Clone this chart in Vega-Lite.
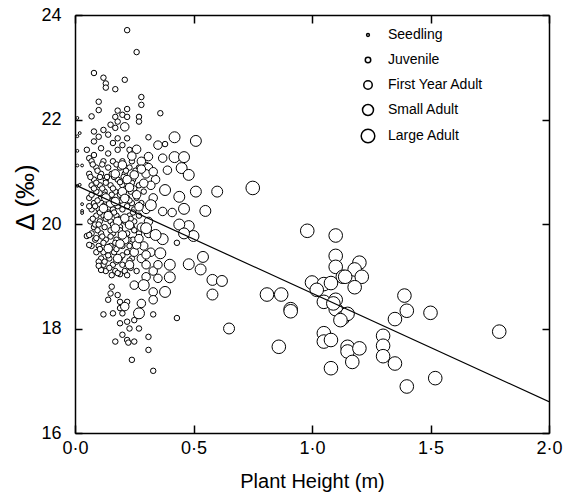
{
  "$schema": "https://vega.github.io/schema/vega-lite/v6.json",
  "width": 474,
  "height": 418,
  "autosize": {"type": "none"},
  "padding": {"left": 75, "top": 15, "right": 16, "bottom": 69},
  "background": "white",
  "config": {
    "view": {"stroke": null},
    "font": "Liberation Sans",
    "axis": {"domainColor": "black", "domainWidth": 1.5, "tickColor": "black", "tickWidth": 1.5, "labelColor": "black", "titleColor": "black", "grid": false, "labelFont": "Liberation Sans", "titleFont": "Liberation Sans", "titleFontWeight": "normal", "labelFlush": false}
  },
  "resolve": {"axis": {"x": "independent", "y": "independent"}},
  "layer": [
    {
      "data": {"values": [
        {"h":0.22,"d":23.71,"s":"Juvenile"},{"h":0.26,"d":23.29,"s":"Juvenile"},{"h":0.08,"d":22.89,"s":"Juvenile"},{"h":0.12,"d":22.80,"s":"Juvenile"},{"h":0.13,"d":22.69,"s":"Juvenile"},{"h":0.13,"d":22.61,"s":"Juvenile"},{"h":0.17,"d":22.58,"s":"Juvenile"},{"h":0.21,"d":22.76,"s":"Juvenile"},{"h":0.28,"d":22.43,"s":"Juvenile"},{"h":0.28,"d":22.28,"s":"Juvenile"},{"h":0.10,"d":22.34,"s":"Juvenile"},{"h":0.10,"d":22.18,"s":"Juvenile"},{"h":0.07,"d":22.06,"s":"Juvenile"},{"h":0.36,"d":22.12,"s":"Juvenile"},{"h":0.18,"d":22.17,"s":"Juvenile"},{"h":0.22,"d":22.20,"s":"Juvenile"},{"h":0.20,"d":22.09,"s":"Juvenile"},{"h":0.17,"d":22.05,"s":"Juvenile"},{"h":0.22,"d":22.05,"s":"Juvenile"},{"h":0.27,"d":22.05,"s":"Juvenile"},{"h":0.27,"d":21.96,"s":"Juvenile"},{"h":0.15,"d":21.90,"s":"Juvenile"},{"h":0.18,"d":21.96,"s":"Juvenile"},{"h":0.17,"d":21.84,"s":"Juvenile"},{"h":0.08,"d":21.77,"s":"Juvenile"},{"h":0.12,"d":21.80,"s":"Juvenile"},{"h":0.10,"d":21.67,"s":"Juvenile"},{"h":0.08,"d":21.58,"s":"Juvenile"},{"h":0.14,"d":21.71,"s":"Juvenile"},{"h":0.18,"d":21.64,"s":"Juvenile"},{"h":0.22,"d":21.64,"s":"Juvenile"},{"h":0.16,"d":21.55,"s":"Juvenile"},{"h":0.20,"d":21.51,"s":"Juvenile"},{"h":0.31,"d":21.66,"s":"Juvenile"},{"h":0.05,"d":21.42,"s":"Juvenile"},{"h":0.08,"d":21.32,"s":"Juvenile"},{"h":0.06,"d":21.26,"s":"Juvenile"},{"h":0.11,"d":21.45,"s":"Juvenile"},{"h":0.14,"d":21.35,"s":"Juvenile"},{"h":0.18,"d":21.42,"s":"Juvenile"},{"h":0.23,"d":21.42,"s":"Juvenile"},{"h":0.38,"d":21.53,"s":"Juvenile"},
        {"h":0.07,"d":21.2,"s":"Juvenile"},{"h":0.12,"d":21.2,"s":"Juvenile"},{"h":0.16,"d":21.2,"s":"Juvenile"},{"h":0.20,"d":21.2,"s":"Juvenile"},{"h":0.24,"d":21.2,"s":"Juvenile"},
        {"h":0.09,"d":21.08,"s":"Juvenile"},{"h":0.14,"d":21.08,"s":"Juvenile"},{"h":0.19,"d":21.08,"s":"Juvenile"},{"h":0.23,"d":21.08,"s":"Juvenile"},{"h":0.27,"d":21.08,"s":"Juvenile"},
        {"h":0.06,"d":20.96,"s":"Juvenile"},{"h":0.11,"d":20.96,"s":"Juvenile"},{"h":0.155,"d":20.96,"s":"Juvenile"},{"h":0.21,"d":20.96,"s":"Juvenile"},
        {"h":0.08,"d":20.85,"s":"Juvenile"},{"h":0.13,"d":20.85,"s":"Juvenile"},{"h":0.18,"d":20.85,"s":"Juvenile"},{"h":0.245,"d":20.85,"s":"Juvenile"},
        {"h":0.07,"d":20.74,"s":"Juvenile"},{"h":0.105,"d":20.74,"s":"Juvenile"},{"h":0.15,"d":20.74,"s":"Juvenile"},{"h":0.20,"d":20.74,"s":"Juvenile"},{"h":0.27,"d":20.74,"s":"Juvenile"},
        {"h":0.09,"d":20.62,"s":"Juvenile"},{"h":0.125,"d":20.62,"s":"Juvenile"},{"h":0.17,"d":20.62,"s":"Juvenile"},{"h":0.235,"d":20.62,"s":"Juvenile"},{"h":0.29,"d":20.62,"s":"Juvenile"},
        {"h":0.06,"d":20.50,"s":"Juvenile"},{"h":0.11,"d":20.50,"s":"Juvenile"},{"h":0.145,"d":20.50,"s":"Juvenile"},{"h":0.22,"d":20.50,"s":"Juvenile"},{"h":0.26,"d":20.50,"s":"Juvenile"},
        {"h":0.08,"d":20.40,"s":"Juvenile"},{"h":0.13,"d":20.40,"s":"Juvenile"},{"h":0.18,"d":20.40,"s":"Juvenile"},{"h":0.24,"d":20.40,"s":"Juvenile"},{"h":0.28,"d":20.40,"s":"Juvenile"},
        {"h":0.07,"d":20.28,"s":"Juvenile"},{"h":0.10,"d":20.28,"s":"Juvenile"},{"h":0.16,"d":20.28,"s":"Juvenile"},{"h":0.20,"d":20.28,"s":"Juvenile"},{"h":0.25,"d":20.28,"s":"Juvenile"},
        {"h":0.09,"d":20.16,"s":"Juvenile"},{"h":0.12,"d":20.16,"s":"Juvenile"},{"h":0.175,"d":20.16,"s":"Juvenile"},{"h":0.23,"d":20.16,"s":"Juvenile"},{"h":0.27,"d":20.16,"s":"Juvenile"},
        {"h":0.065,"d":20.05,"s":"Juvenile"},{"h":0.105,"d":20.05,"s":"Juvenile"},{"h":0.15,"d":20.05,"s":"Juvenile"},{"h":0.21,"d":20.05,"s":"Juvenile"},{"h":0.25,"d":20.05,"s":"Juvenile"},
        {"h":0.08,"d":19.94,"s":"Juvenile"},{"h":0.125,"d":19.94,"s":"Juvenile"},{"h":0.19,"d":19.94,"s":"Juvenile"},{"h":0.24,"d":19.94,"s":"Juvenile"},
        {"h":0.07,"d":19.82,"s":"Juvenile"},{"h":0.11,"d":19.82,"s":"Juvenile"},{"h":0.16,"d":19.82,"s":"Juvenile"},{"h":0.22,"d":19.82,"s":"Juvenile"},{"h":0.27,"d":19.82,"s":"Juvenile"},
        {"h":0.085,"d":19.70,"s":"Juvenile"},{"h":0.13,"d":19.70,"s":"Juvenile"},{"h":0.175,"d":19.70,"s":"Juvenile"},{"h":0.245,"d":19.70,"s":"Juvenile"},
        {"h":0.10,"d":19.58,"s":"Juvenile"},{"h":0.15,"d":19.58,"s":"Juvenile"},{"h":0.20,"d":19.58,"s":"Juvenile"},{"h":0.26,"d":19.58,"s":"Juvenile"},
        {"h":0.09,"d":19.46,"s":"Juvenile"},{"h":0.12,"d":19.46,"s":"Juvenile"},{"h":0.165,"d":19.46,"s":"Juvenile"},{"h":0.22,"d":19.46,"s":"Juvenile"},
        {"h":0.11,"d":19.34,"s":"Juvenile"},{"h":0.145,"d":19.34,"s":"Juvenile"},{"h":0.19,"d":19.34,"s":"Juvenile"},{"h":0.24,"d":19.34,"s":"Juvenile"},
        {"h":0.12,"d":19.22,"s":"Juvenile"},{"h":0.16,"d":19.22,"s":"Juvenile"},{"h":0.20,"d":19.22,"s":"Juvenile"},
        {"h":0.13,"d":19.10,"s":"Juvenile"},{"h":0.17,"d":19.10,"s":"Juvenile"},{"h":0.21,"d":19.10,"s":"Juvenile"},{"h":0.26,"d":19.10,"s":"Juvenile"},
        {"h":0.095,"d":21.02,"s":"Juvenile"},{"h":0.135,"d":20.9,"s":"Juvenile"},{"h":0.19,"d":20.8,"s":"Juvenile"},{"h":0.115,"d":20.68,"s":"Juvenile"},{"h":0.155,"d":20.56,"s":"Juvenile"},{"h":0.195,"d":20.45,"s":"Juvenile"},{"h":0.085,"d":20.34,"s":"Juvenile"},{"h":0.14,"d":20.22,"s":"Juvenile"},{"h":0.19,"d":20.1,"s":"Juvenile"},{"h":0.085,"d":19.99,"s":"Juvenile"},{"h":0.15,"d":19.88,"s":"Juvenile"},{"h":0.2,"d":19.76,"s":"Juvenile"},{"h":0.12,"d":19.64,"s":"Juvenile"},{"h":0.175,"d":19.52,"s":"Juvenile"},{"h":0.14,"d":19.4,"s":"Juvenile"},{"h":0.175,"d":19.28,"s":"Juvenile"},{"h":0.145,"d":19.16,"s":"Juvenile"},{"h":0.19,"d":19.04,"s":"Juvenile"},
        {"h":0.075,"d":21.14,"s":"Juvenile"},{"h":0.115,"d":21.14,"s":"Juvenile"},{"h":0.175,"d":21.14,"s":"Juvenile"},{"h":0.215,"d":21.02,"s":"Juvenile"},{"h":0.255,"d":21.02,"s":"Juvenile"},{"h":0.065,"d":20.9,"s":"Juvenile"},{"h":0.105,"d":20.9,"s":"Juvenile"},{"h":0.165,"d":20.9,"s":"Juvenile"},{"h":0.205,"d":20.9,"s":"Juvenile"},{"h":0.09,"d":20.79,"s":"Juvenile"},{"h":0.13,"d":20.79,"s":"Juvenile"},{"h":0.24,"d":20.79,"s":"Juvenile"},{"h":0.08,"d":20.68,"s":"Juvenile"},{"h":0.16,"d":20.68,"s":"Juvenile"},{"h":0.215,"d":20.68,"s":"Juvenile"},{"h":0.25,"d":20.68,"s":"Juvenile"},{"h":0.07,"d":20.56,"s":"Juvenile"},{"h":0.125,"d":20.56,"s":"Juvenile"},{"h":0.19,"d":20.56,"s":"Juvenile"},{"h":0.095,"d":20.45,"s":"Juvenile"},{"h":0.16,"d":20.45,"s":"Juvenile"},{"h":0.23,"d":20.45,"s":"Juvenile"},{"h":0.06,"d":20.34,"s":"Juvenile"},{"h":0.12,"d":20.34,"s":"Juvenile"},{"h":0.18,"d":20.34,"s":"Juvenile"},{"h":0.22,"d":20.34,"s":"Juvenile"},{"h":0.105,"d":20.22,"s":"Juvenile"},{"h":0.165,"d":20.22,"s":"Juvenile"},{"h":0.245,"d":20.22,"s":"Juvenile"},{"h":0.075,"d":20.1,"s":"Juvenile"},{"h":0.13,"d":20.1,"s":"Juvenile"},{"h":0.235,"d":20.1,"s":"Juvenile"},{"h":0.1,"d":19.99,"s":"Juvenile"},{"h":0.16,"d":19.99,"s":"Juvenile"},{"h":0.225,"d":19.99,"s":"Juvenile"},{"h":0.095,"d":19.88,"s":"Juvenile"},{"h":0.19,"d":19.88,"s":"Juvenile"},{"h":0.25,"d":19.88,"s":"Juvenile"},{"h":0.115,"d":19.76,"s":"Juvenile"},{"h":0.15,"d":19.76,"s":"Juvenile"},{"h":0.225,"d":19.7,"s":"Juvenile"},{"h":0.17,"d":19.64,"s":"Juvenile"},{"h":0.23,"d":19.58,"s":"Juvenile"},{"h":0.105,"d":19.52,"s":"Juvenile"},{"h":0.2,"d":19.4,"s":"Juvenile"},{"h":0.125,"d":19.28,"s":"Juvenile"},{"h":0.23,"d":19.3,"s":"Juvenile"},{"h":0.11,"d":19.12,"s":"Juvenile"},{"h":0.235,"d":19.16,"s":"Juvenile"},
        {"h":0.05,"d":19.77,"s":"Juvenile"},{"h":0.07,"d":19.58,"s":"Juvenile"},{"h":0.06,"d":19.79,"s":"Juvenile"},{"h":0.10,"d":19.28,"s":"Juvenile"},{"h":0.10,"d":19.20,"s":"Juvenile"},{"h":0.06,"d":19.60,"s":"Juvenile"},{"h":0.09,"d":19.73,"s":"Juvenile"},
        {"h":0.155,"d":19.02,"s":"Juvenile"},{"h":0.18,"d":19.06,"s":"Juvenile"},{"h":0.22,"d":19.02,"s":"Juvenile"},{"h":0.155,"d":18.80,"s":"Juvenile"},{"h":0.15,"d":18.67,"s":"Juvenile"},{"h":0.18,"d":18.64,"s":"Juvenile"},{"h":0.14,"d":18.55,"s":"Juvenile"},{"h":0.19,"d":18.51,"s":"Juvenile"},{"h":0.22,"d":18.51,"s":"Juvenile"},{"h":0.19,"d":18.39,"s":"Juvenile"},{"h":0.16,"d":18.29,"s":"Juvenile"},{"h":0.20,"d":18.29,"s":"Juvenile"},{"h":0.12,"d":18.27,"s":"Juvenile"},{"h":0.33,"d":18.27,"s":"Juvenile"},{"h":0.25,"d":18.16,"s":"Juvenile"},{"h":0.19,"d":18.10,"s":"Juvenile"},{"h":0.22,"d":18.13,"s":"Juvenile"},{"h":0.23,"d":18.00,"s":"Juvenile"},{"h":0.27,"d":18.00,"s":"Juvenile"},{"h":0.20,"d":17.88,"s":"Juvenile"},{"h":0.22,"d":17.78,"s":"Juvenile"},{"h":0.225,"d":17.73,"s":"Juvenile"},{"h":0.25,"d":17.75,"s":"Juvenile"},{"h":0.17,"d":17.75,"s":"Juvenile"},{"h":0.31,"d":17.84,"s":"Juvenile"},{"h":0.31,"d":17.59,"s":"Juvenile"},{"h":0.24,"d":17.40,"s":"Juvenile"},{"h":0.33,"d":17.19,"s":"Juvenile"},{"h":0.43,"d":18.20,"s":"Juvenile"},{"h":0.43,"d":19.64,"s":"Juvenile"},
        {"h":0.21,"d":21.86,"s":"First Year Adult"},{"h":0.26,"d":21.43,"s":"First Year Adult"},{"h":0.35,"d":21.51,"s":"First Year Adult"},{"h":0.20,"d":21.13,"s":"First Year Adult"},{"h":0.31,"d":21.29,"s":"First Year Adult"},{"h":0.30,"d":21.10,"s":"First Year Adult"},{"h":0.37,"d":21.26,"s":"First Year Adult"},{"h":0.28,"d":21.20,"s":"First Year Adult"},{"h":0.31,"d":21.08,"s":"First Year Adult"},{"h":0.17,"d":20.96,"s":"First Year Adult"},{"h":0.30,"d":20.96,"s":"First Year Adult"},{"h":0.22,"d":20.85,"s":"First Year Adult"},{"h":0.34,"d":20.85,"s":"First Year Adult"},{"h":0.32,"d":20.74,"s":"First Year Adult"},{"h":0.20,"d":20.62,"s":"First Year Adult"},{"h":0.33,"d":20.50,"s":"First Year Adult"},{"h":0.15,"d":20.40,"s":"First Year Adult"},{"h":0.30,"d":20.28,"s":"First Year Adult"},{"h":0.14,"d":20.16,"s":"First Year Adult"},{"h":0.18,"d":20.05,"s":"First Year Adult"},{"h":0.31,"d":20.05,"s":"First Year Adult"},{"h":0.28,"d":19.94,"s":"First Year Adult"},{"h":0.31,"d":19.82,"s":"First Year Adult"},{"h":0.21,"d":19.70,"s":"First Year Adult"},{"h":0.29,"d":19.58,"s":"First Year Adult"},{"h":0.25,"d":19.46,"s":"First Year Adult"},{"h":0.32,"d":19.46,"s":"First Year Adult"},{"h":0.28,"d":19.34,"s":"First Year Adult"},{"h":0.23,"d":19.22,"s":"First Year Adult"},{"h":0.30,"d":19.22,"s":"First Year Adult"},{"h":0.33,"d":19.10,"s":"First Year Adult"},
        {"h":0.26,"d":20.56,"s":"First Year Adult"},{"h":0.29,"d":20.78,"s":"First Year Adult"},{"h":0.25,"d":20.94,"s":"First Year Adult"},{"h":0.37,"d":20.24,"s":"First Year Adult"},{"h":0.17,"d":19.92,"s":"First Year Adult"},{"h":0.21,"d":20.11,"s":"First Year Adult"},{"h":0.26,"d":19.60,"s":"First Year Adult"},{"h":0.30,"d":19.41,"s":"First Year Adult"},{"h":0.35,"d":19.22,"s":"First Year Adult"},{"h":0.18,"d":19.34,"s":"First Year Adult"},{"h":0.14,"d":19.53,"s":"First Year Adult"},{"h":0.20,"d":19.79,"s":"First Year Adult"},{"h":0.12,"d":20.30,"s":"First Year Adult"},{"h":0.17,"d":20.43,"s":"First Year Adult"},{"h":0.21,"d":20.49,"s":"First Year Adult"},{"h":0.33,"d":21.00,"s":"First Year Adult"},{"h":0.39,"d":21.03,"s":"First Year Adult"},
        {"h":0.24,"d":21.30,"s":"First Year Adult"},{"h":0.28,"d":21.05,"s":"First Year Adult"},{"h":0.23,"d":20.70,"s":"First Year Adult"},{"h":0.13,"d":20.50,"s":"First Year Adult"},{"h":0.27,"d":20.33,"s":"First Year Adult"},{"h":0.23,"d":19.98,"s":"First Year Adult"},{"h":0.19,"d":19.62,"s":"First Year Adult"},{"h":0.27,"d":19.72,"s":"First Year Adult"},
        {"h":0.25,"d":18.83,"s":"First Year Adult"},{"h":0.30,"d":18.99,"s":"First Year Adult"},{"h":0.35,"d":18.96,"s":"First Year Adult"},{"h":0.33,"d":18.70,"s":"First Year Adult"},{"h":0.33,"d":18.55,"s":"First Year Adult"},{"h":0.28,"d":18.48,"s":"First Year Adult"},{"h":0.21,"d":18.42,"s":"First Year Adult"},{"h":0.41,"d":20.22,"s":"First Year Adult"},
        {"h":0.42,"d":21.66,"s":"Small Adult"},{"h":0.51,"d":21.59,"s":"Small Adult"},{"h":0.42,"d":21.28,"s":"Small Adult"},{"h":0.46,"d":21.28,"s":"Small Adult"},{"h":0.45,"d":21.07,"s":"Small Adult"},{"h":0.48,"d":20.94,"s":"Small Adult"},{"h":0.44,"d":20.52,"s":"Small Adult"},{"h":0.46,"d":20.29,"s":"Small Adult"},{"h":0.55,"d":20.25,"s":"Small Adult"},{"h":0.48,"d":19.96,"s":"Small Adult"},{"h":0.50,"d":19.77,"s":"Small Adult"},{"h":0.37,"d":19.71,"s":"Small Adult"},{"h":0.54,"d":19.37,"s":"Small Adult"},{"h":0.48,"d":19.23,"s":"Small Adult"},{"h":0.53,"d":19.13,"s":"Small Adult"},{"h":0.40,"d":18.98,"s":"Small Adult"},{"h":0.58,"d":18.93,"s":"Small Adult"},{"h":0.62,"d":18.91,"s":"Small Adult"},{"h":0.58,"d":18.65,"s":"Small Adult"},{"h":0.65,"d":18.00,"s":"Small Adult"},{"h":0.60,"d":20.62,"s":"Small Adult"},{"h":0.51,"d":20.62,"s":"Small Adult"},{"h":0.44,"d":19.99,"s":"Small Adult"},{"h":0.46,"d":19.82,"s":"Small Adult"},{"h":0.32,"d":20.36,"s":"Small Adult"},{"h":0.38,"d":20.65,"s":"Small Adult"},{"h":0.34,"d":19.79,"s":"Small Adult"},{"h":0.36,"d":19.44,"s":"Small Adult"},{"h":0.40,"d":19.22,"s":"Small Adult"},{"h":0.29,"d":18.83,"s":"Small Adult"},{"h":0.27,"d":18.29,"s":"Small Adult"},{"h":0.38,"d":18.70,"s":"Small Adult"},{"h":0.30,"d":19.92,"s":"Small Adult"},
        {"h":0.75,"d":20.69,"s":"Large Adult"},{"h":0.98,"d":19.87,"s":"Large Adult"},{"h":1.10,"d":19.78,"s":"Large Adult"},{"h":1.10,"d":19.39,"s":"Large Adult"},{"h":1.10,"d":19.18,"s":"Large Adult"},{"h":1.00,"d":18.88,"s":"Large Adult"},{"h":1.05,"d":18.85,"s":"Large Adult"},{"h":1.02,"d":18.74,"s":"Large Adult"},{"h":1.05,"d":18.51,"s":"Large Adult"},{"h":1.10,"d":18.55,"s":"Large Adult"},{"h":1.10,"d":18.37,"s":"Large Adult"},{"h":1.13,"d":18.20,"s":"Large Adult"},{"h":1.05,"d":17.91,"s":"Large Adult"},{"h":1.05,"d":17.75,"s":"Large Adult"},{"h":1.13,"d":18.99,"s":"Large Adult"},{"h":0.81,"d":18.65,"s":"Large Adult"},{"h":0.87,"d":18.65,"s":"Large Adult"},{"h":0.91,"d":18.37,"s":"Large Adult"},{"h":0.91,"d":18.33,"s":"Large Adult"},{"h":0.86,"d":17.65,"s":"Large Adult"},{"h":1.15,"d":17.65,"s":"Large Adult"},{"h":1.20,"d":19.26,"s":"Large Adult"},{"h":1.18,"d":19.13,"s":"Large Adult"},{"h":1.21,"d":18.99,"s":"Large Adult"},{"h":1.14,"d":18.99,"s":"Large Adult"},{"h":1.18,"d":18.79,"s":"Large Adult"},{"h":1.09,"d":18.48,"s":"Large Adult"},{"h":1.15,"d":18.28,"s":"Large Adult"},{"h":1.12,"d":18.16,"s":"Large Adult"},{"h":1.39,"d":18.63,"s":"Large Adult"},{"h":1.40,"d":18.34,"s":"Large Adult"},{"h":1.35,"d":18.18,"s":"Large Adult"},{"h":1.50,"d":18.30,"s":"Large Adult"},{"h":1.79,"d":17.94,"s":"Large Adult"},{"h":1.30,"d":17.86,"s":"Large Adult"},{"h":1.30,"d":17.67,"s":"Large Adult"},{"h":1.30,"d":17.47,"s":"Large Adult"},{"h":1.35,"d":17.33,"s":"Large Adult"},{"h":1.15,"d":17.56,"s":"Large Adult"},{"h":1.20,"d":17.62,"s":"Large Adult"},{"h":1.17,"d":17.36,"s":"Large Adult"},{"h":1.52,"d":17.05,"s":"Large Adult"},{"h":1.40,"d":16.89,"s":"Large Adult"},{"h":1.08,"d":17.24,"s":"Large Adult"},{"h":1.08,"d":17.78,"s":"Large Adult"},{"h":1.08,"d":18.87,"s":"Large Adult"},
        {"h":0.01,"d":22.03,"s":"Seedling"},{"h":0.01,"d":21.68,"s":"Seedling"},{"h":0.02,"d":21.74,"s":"Seedling"},{"h":0.01,"d":21.12,"s":"Seedling"},{"h":0.03,"d":21.12,"s":"Seedling"},{"h":0.01,"d":20.73,"s":"Seedling"},{"h":0.02,"d":20.75,"s":"Seedling"},{"h":0.03,"d":20.38,"s":"Seedling"},{"h":0.03,"d":20.25,"s":"Seedling"},{"h":0.03,"d":20.21,"s":"Seedling"},{"h":0.01,"d":21.40,"s":"Seedling"}
      ]},
      "mark": {"type": "point", "shape": "circle", "fill": "white", "fillOpacity": 1, "stroke": "black", "strokeWidth": 1, "opacity": 1},
      "encoding": {
        "x": {"field": "h", "type": "quantitative", "scale": {"domain": [0, 2], "nice": false, "zero": false},
              "axis": {"orient": "bottom", "values": [0, 0.5, 1, 1.5, 2], "labelExpr": "replace(format(datum.value, '.1f'), '.', '·')", "tickSize": -8, "labelPadding": 14, "labelFontSize": 18, "title": "Plant Height (m)", "titleFontSize": 20, "titlePadding": 14}},
        "y": {"field": "d", "type": "quantitative", "scale": {"domain": [16, 24], "nice": false, "zero": false},
              "axis": {"orient": "left", "values": [16, 18, 20, 22, 24], "tickSize": -7, "labelPadding": 21, "labelFontSize": 18, "title": "Δ (‰)", "titleFontSize": 26, "titleAngle": -90, "titleX": -42, "titleY": 182, "titleAlign": "center", "titleBaseline": "alphabetic"}},
        "size": {"field": "s", "type": "nominal",
                 "scale": {"type": "ordinal", "domain": ["Seedling", "Juvenile", "First Year Adult", "Small Adult", "Large Adult"], "range": [8, 30, 72, 120, 185]},
                 "legend": {"orient": "none", "legendX": 285, "legendY": 13, "title": null, "labelFontSize": 14, "labelColor": "black", "labelFont": "Liberation Sans", "symbolType": "circle", "gridAlign": "all", "rowPadding": 5, "labelOffset": 12,
                            "encode": {"symbols": {"update": {"stroke": {"value": "black"}, "fill": {"value": "white"}, "strokeWidth": {"value": 1}, "opacity": {"value": 1}, "fillOpacity": {"value": 1}, "strokeOpacity": {"value": 1}}}}}}
      }
    },
    {
      "data": {"values": [{"h": 0, "d": 20.75}, {"h": 2, "d": 16.6}]},
      "mark": {"type": "line", "color": "black", "strokeWidth": 1.2, "clip": true},
      "encoding": {
        "x": {"field": "h", "type": "quantitative", "scale": {"domain": [0, 2], "nice": false, "zero": false},
              "axis": {"orient": "top", "values": [0, 0.5, 1, 1.5, 2], "labels": false, "tickSize": -8, "title": null}},
        "y": {"field": "d", "type": "quantitative", "scale": {"domain": [16, 24], "nice": false, "zero": false},
              "axis": {"orient": "right", "values": [16, 18, 20, 22, 24], "labels": false, "tickSize": -7, "title": null}}
      }
    }
  ]
}
